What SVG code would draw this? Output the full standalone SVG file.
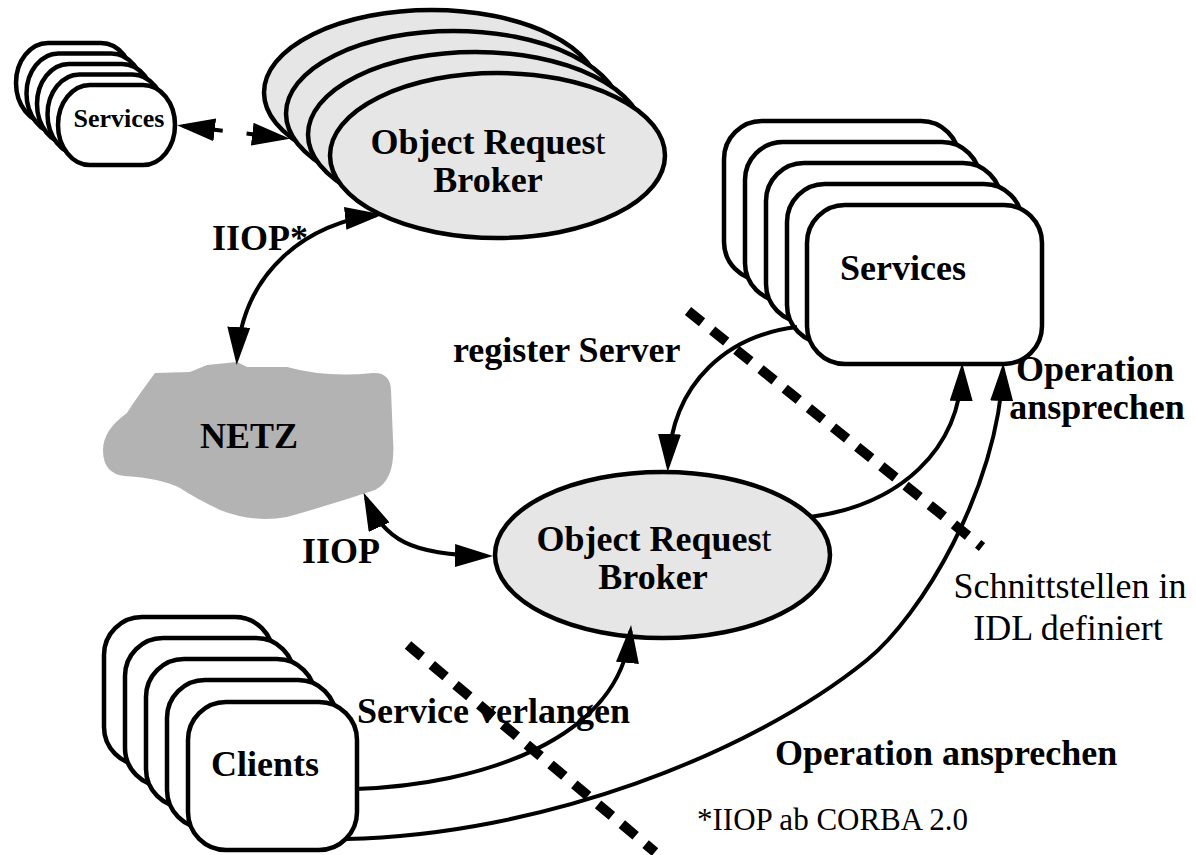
<svg xmlns="http://www.w3.org/2000/svg" width="1196" height="855" viewBox="0 0 1196 855">
<style>
.box{fill:#fff;stroke:#000;stroke-width:4.5}
.orb{fill:#e6e6e6;stroke:#000;stroke-width:4.5}
.conn{fill:none;stroke:#000;stroke-width:4}
.sep{fill:none;stroke:#000;stroke-width:10;stroke-dasharray:18 13}
.lbl{font-family:"Liberation Serif","Times New Roman",serif;font-weight:bold;font-size:36px;fill:#000}
.txt{font-family:"Liberation Serif","Times New Roman",serif;font-weight:normal;font-size:36px;fill:#000}
</style>
<defs>
<marker id="ah" viewBox="0 0 38 23" refX="32" refY="11.5" markerWidth="38" markerHeight="23" markerUnits="userSpaceOnUse" orient="auto-start-reverse">
<path d="M0,0 L38,11.5 L0,23 Z" fill="#000"/>
</marker>
</defs>
<rect width="1196" height="855" fill="#fff"/>

<g id="services-small">
<rect class="box" x="16" y="43" width="117" height="80" rx="32" ry="40"/>
<rect class="box" x="26.5" y="53.5" width="117" height="80" rx="32" ry="40"/>
<rect class="box" x="37" y="64" width="117" height="80" rx="32" ry="40"/>
<rect class="box" x="47.5" y="74.5" width="117" height="80" rx="32" ry="40"/>
<rect class="box" x="58" y="85" width="117" height="80" rx="32" ry="40"/>
<text class="lbl" x="119" y="127" text-anchor="middle" style="font-size:26px">Services</text>
</g>

<g id="orb-top">
<ellipse class="orb" cx="431.5" cy="92.5" rx="167.5" ry="82.5"/>
<ellipse class="orb" cx="453.5" cy="113.5" rx="167.5" ry="82.5"/>
<ellipse class="orb" cx="475.5" cy="134.5" rx="167.5" ry="82.5"/>
<ellipse class="orb" cx="497.5" cy="155.5" rx="167.5" ry="82.5"/>
<text class="lbl" x="488" y="154" text-anchor="middle">Object Reques<tspan font-weight="normal">t</tspan></text>
<text class="lbl" x="488" y="192" text-anchor="middle">Broker</text>
</g>

<g id="services">
<rect class="box" x="724" y="121" width="235" height="159" rx="38"/>
<rect class="box" x="745" y="142" width="235" height="159" rx="38"/>
<rect class="box" x="766" y="163" width="235" height="159" rx="38"/>
<rect class="box" x="787" y="184" width="235" height="159" rx="38"/>
<rect class="box" x="807" y="205" width="235" height="159" rx="38"/>
<text class="lbl" x="903" y="280" text-anchor="middle">Services</text>
</g>

<g id="netz">
<path d="M155 373 L190 372 L207 365 L237 362 L247 367 L287 367 Q327 378 373 373 Q390 372 391 390 L393 440 Q396 480 375 490 Q330 505 287 517 Q253 523 220 510 Q195 498 180 488 Q160 478 125 476 Q103 474 103 450 Q103 430 127 413 Q135 400 155 373 Z" fill="#b3b3b3"/>
<text class="lbl" x="249" y="448" text-anchor="middle">NETZ</text>
</g>

<g id="orb-bottom">
<ellipse class="orb" cx="662.5" cy="555" rx="167.5" ry="83"/>
<text class="lbl" x="654" y="551" text-anchor="middle">Object Reques<tspan font-weight="normal">t</tspan></text>
<text class="lbl" x="653" y="589" text-anchor="middle">Broker</text>
</g>

<g id="clients">
<rect class="box" x="104" y="617" width="169" height="148" rx="38"/>
<rect class="box" x="125" y="638" width="169" height="148" rx="38"/>
<rect class="box" x="146" y="659" width="169" height="148" rx="38"/>
<rect class="box" x="167" y="680" width="169" height="148" rx="38"/>
<rect class="box" x="188" y="702" width="169" height="148" rx="38"/>
<text class="lbl" x="265" y="776" text-anchor="middle">Clients</text>
</g>

<g id="connectors">
<path class="conn" d="M183 126 L284 138" stroke-dasharray="40 24 100" marker-start="url(#ah)" marker-end="url(#ah)"/>
<path class="conn" d="M377 215 C310 222 242 270 237 359" marker-start="url(#ah)" marker-end="url(#ah)"/>
<path class="conn" d="M366 498 C385 540 410 555 487 556" marker-start="url(#ah)" marker-end="url(#ah)"/>
<path class="conn" d="M797 327 C730 335 672 380 668 466" marker-end="url(#ah)"/>
<path class="conn" d="M355 789 C480 785 620 740 630.5 631" marker-end="url(#ah)"/>
<path class="conn" d="M810 517 C900 505 960 450 962 369" marker-end="url(#ah)"/>
<path class="conn" d="M346 839 C540 835 750 755 867 660 C920 617 998 490 1003 369" marker-end="url(#ah)"/>
</g>

<g id="separators">
<path class="sep" d="M688 311 L982 547"/>
<path class="sep" d="M408 645 L655 852"/>
</g>

<g id="labels">
<text class="lbl" x="212" y="250">IIOP*</text>
<text class="lbl" x="302" y="563">IIOP</text>
<text class="lbl" x="453" y="362">register Server</text>
<text class="lbl" x="357" y="723">Service verlangen</text>
<text class="lbl" x="1095" y="381" text-anchor="middle">Operation</text>
<text class="lbl" x="1097" y="419" text-anchor="middle">ansprechen</text>
<text class="lbl" x="775" y="765">Operation ansprechen</text>
<text class="txt" x="1070" y="598" text-anchor="middle">Schnittstellen in</text>
<text class="txt" x="1068" y="640" text-anchor="middle">IDL definiert</text>
<text class="txt" x="697" y="830" style="font-size:31px">*IIOP ab CORBA 2.0</text>
</g>
</svg>
